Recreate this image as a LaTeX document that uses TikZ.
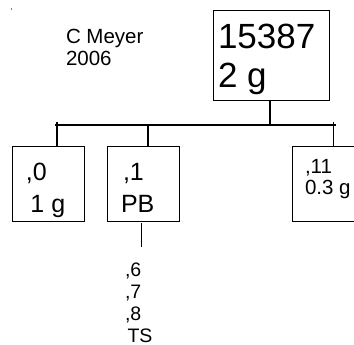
\documentclass[tikz,border=0pt]{standalone}
\usepackage{fontspec}
\setmainfont{Liberation Sans}
\begin{document}
\begin{tikzpicture}[x=1pt,y=-1pt,line width=1.1pt,
  box/.style={draw,line width=1.1pt,inner sep=0pt,anchor=north west,minimum height=75pt,minimum width=72pt},
  txt/.style={anchor=base west,inner sep=0pt,outer sep=0pt},
  big/.style={txt,font=\fontsize{35}{35}\selectfont},
  mid/.style={txt,font=\fontsize{25}{25}\selectfont},
  small/.style={txt,font=\fontsize{20.5}{20.5}\selectfont},
  tiny/.style={txt,font=\fontsize{19.5}{19.5}\selectfont}]
\useasboundingbox (0,0) rectangle (354,345);
\fill[gray] (11,8.5) rectangle (12.3,10);
% boxes
\node[box,minimum width=115.5pt,minimum height=90pt] (top) at (213,10) {};
\node[box] (b0) at (12,146) {};
\node[box] (b1) at (107,146) {};
\node[box] (b11) at (292,146) {};
% texts
\node[small] (author) at (66,44) {C Meyer};
\node[small] (year) at (66,66) {2006};
\node[big] (t1) at (218,48.3) {15387};
\node[big] (t2) at (218,88) {2 g};
\node[mid] (a1) at (26,181) {,0};
\node[mid] (a2) at (30.5,212) {1 g};
\node[mid] (c1) at (123,181) {,1};
\node[mid] (c2) at (121,212) {PB};
\node[small] (e1) at (305,174) {,11};
\node[small] (e2) at (305,194) {0.3 g};
\node[tiny] (l6) at (125,276) {,6};
\node[tiny] (l7) at (125,298) {,7};
\node[tiny] (l8) at (125,320) {,8};
\node[tiny,text depth=0pt] (lts) at (127.5,342) {TS};
% connectors
\coordinate (busL) at (55,125);
\coordinate (busR) at (336,125);
\coordinate (j) at (270,125);
\coordinate (d0) at (57,122.5);
\coordinate (d1) at (148,125);
\coordinate (d11) at (333.5,122.5);
\coordinate (tailtop) at (141.5,223);
\coordinate (tail) at (141.5,246.5);
\draw (busL) -- (busR);
\draw (top.south -| j) -- (j);
\draw (d0) -- (d0 |- b0.north);
\draw (d1) -- (d1 |- b1.north);
\draw (d11) -- (d11 |- b11.north);
\draw (tailtop) -- (tail);
\end{tikzpicture}
\end{document}
